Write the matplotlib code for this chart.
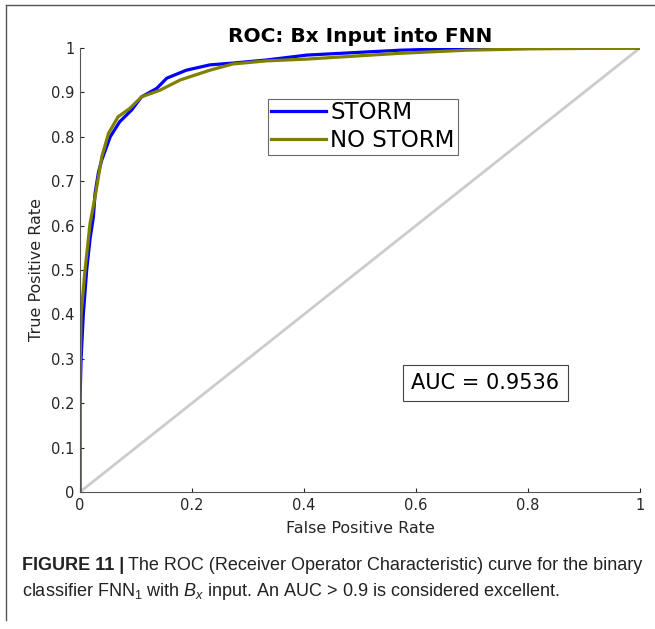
import matplotlib.pyplot as plt
from matplotlib.lines import Line2D

plt.rcParams['font.family'] = ['DejaVu Sans']
plt.rcParams['mathtext.fontset'] = 'custom'
plt.rcParams['mathtext.rm'] = 'Liberation Sans'
plt.rcParams['mathtext.it'] = 'Liberation Sans:italic'

# ROC points
storm_fpr = [0, 0, 0.002, 0.006, 0.012, 0.018, 0.024, 0.027, 0.033, 0.039, 0.054, 0.071,
             0.092, 0.110, 0.137, 0.155, 0.19, 0.232, 0.273, 0.333, 0.405, 0.571, 0.68, 0.8, 1.0]
storm_tpr = [0, 0.2, 0.3, 0.4, 0.5, 0.57, 0.62, 0.673, 0.72, 0.748, 0.80, 0.834,
             0.86, 0.89, 0.909, 0.932, 0.95, 0.962, 0.966, 0.973, 0.984, 0.995, 0.999, 1.0, 1.0]
nostorm_fpr = [0, 0, 0.002, 0.009, 0.018, 0.027, 0.039, 0.051, 0.068, 0.089, 0.110, 0.143,
               0.179, 0.232, 0.273, 0.333, 0.405, 0.571, 0.69, 0.8, 1.0]
nostorm_tpr = [0, 0.25, 0.4, 0.5, 0.605, 0.665, 0.755, 0.808, 0.845, 0.864, 0.89, 0.905,
               0.928, 0.95, 0.964, 0.971, 0.975, 0.988, 0.995, 0.998, 1.0]
series_names = ['STORM', 'NO STORM']
auc_text = 'AUC = 0.9536'
x_ticks = [0, 0.2, 0.4, 0.6, 0.8, 1]
x_labels = ['0', '0.2', '0.4', '0.6', '0.8', '1']
y_ticks = [0, 0.1, 0.2, 0.3, 0.4, 0.5, 0.6, 0.7, 0.8, 0.9, 1]
y_labels = ['0', '0.1', '0.2', '0.3', '0.4', '0.5', '0.6', '0.7', '0.8', '0.9', '1']

fig = plt.figure(figsize=(6.55, 6.29), dpi=100)
ax = fig.add_axes([0.1221, 0.2178, 0.8549, 0.7059])

ax.plot([0, 1], [0, 1], color='#cccccc', lw=2)
ax.plot(storm_fpr, storm_tpr, color='#0000ff', lw=2.3, label=series_names[0])
ax.plot(nostorm_fpr, nostorm_tpr, color='#808000', lw=2.3, label=series_names[1])

ax.set_xlim(0, 1)
ax.set_ylim(0, 1)
ax.set_xticks(x_ticks)
ax.set_xticklabels(x_labels)
ax.set_yticks(y_ticks)
ax.set_yticklabels(y_labels)
ax.tick_params(direction='in', length=3, width=0.8, labelsize=10.5, colors='#262626', pad=4)
for s in ['top', 'right']:
    ax.spines[s].set_visible(False)
for s in ['left', 'bottom']:
    ax.spines[s].set_color('#555555')
    ax.spines[s].set_linewidth(0.8)
ax.set_xlabel('False Positive Rate', fontsize=11.5, color='#262626', labelpad=6)
ax.set_ylabel('True Positive Rate', fontsize=11.5, color='#262626', labelpad=5)
ax.set_title('ROC: Bx Input into FNN', fontsize=14.5, fontweight='bold', pad=4)

leg = ax.legend(loc='upper left', bbox_to_anchor=(0.336, 0.886), fontsize=16.5, frameon=True,
                fancybox=False, edgecolor='#444444', handlelength=2.4, handletextpad=0.2,
                borderpad=0.12, labelspacing=0.2, borderaxespad=0)
leg.get_frame().set_linewidth(0.8)

ax.text(0.592, 0.232, auc_text, fontsize=15,
        bbox=dict(boxstyle='square,pad=0.4', fc='white', ec='#444444', lw=0.8))

# figure frame (left and top)
fig.add_artist(Line2D([6 / 655, 6 / 655], [1 - 620 / 629, 1 - 5 / 629], color='#555555', lw=1))
fig.add_artist(Line2D([6 / 655, 1], [1 - 5 / 629, 1 - 5 / 629], color='#555555', lw=1))

# caption
fig.canvas.draw()
r = fig.canvas.get_renderer()
cy1 = 1 - 566 / 629
cy2 = 1 - 592 / 629
cap = dict(fontsize=13, va='center', color='#222222', family='Liberation Sans')
t = fig.text(22 / 655, cy1, 'FIGURE 11 |', fontweight='bold', **cap)
bb = t.get_window_extent(renderer=r)
fig.text(bb.x1 / 655 + 4 / 655, cy1,
         'The ROC (Receiver Operator Characteristic) curve for the binary', **cap)
fig.text(22 / 655, cy2,
         r'classifier FNN$_1$ with $B_x$ input. An AUC > 0.9 is considered excellent.', **cap)

fig.savefig('out.png', dpi=100)
